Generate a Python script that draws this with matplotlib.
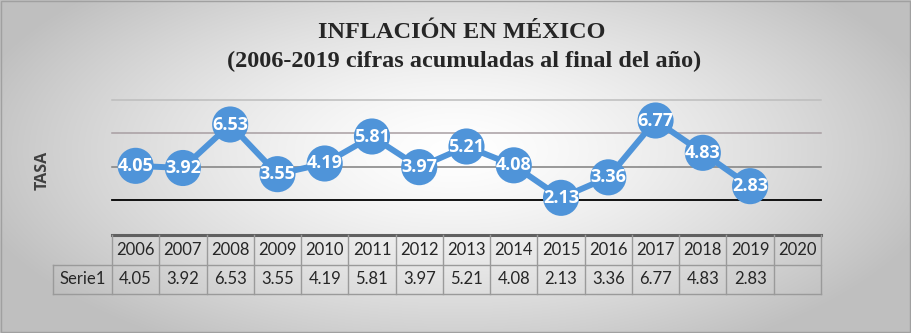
import numpy as np
import matplotlib
matplotlib.use("Agg")
import matplotlib.pyplot as plt
from matplotlib.patches import Rectangle

# ---- data ----
years = ["2006", "2007", "2008", "2009", "2010", "2011", "2012", "2013",
         "2014", "2015", "2016", "2017", "2018", "2019", "2020"]
values = [4.05, 3.92, 6.53, 3.55, 4.19, 5.81, 3.97, 5.21, 4.08, 2.13,
          3.36, 6.77, 4.83, 2.83]
series_name = "Serie1"
title1 = "INFLACIÓN EN MÉXICO"
title2 = "(2006-2019 cifras acumuladas al final del año)"
ylabel = "TASA"
yticks = [2, 4, 6, 8]

W, H = 911, 333
fig = plt.figure(figsize=(W / 100, H / 100), dpi=100)

# ---- background radial gradient ----
bg = fig.add_axes([0, 0, 1, 1])
yy, xx = np.mgrid[0:H, 0:W]
d = np.sqrt(((xx - 455) / 500.0) ** 2 + ((yy - 150) / 230.0) ** 2)
v = 1.0 - 0.25 * np.clip(d, 0, 1) ** 1.4
img = np.dstack([v, v, v])
bg.imshow(img, extent=[0, W, H, 0], aspect="auto")
bg.set_xlim(0, W)
bg.set_ylim(H, 0)
bg.axis("off")
bg.add_patch(Rectangle((0.5, 0.5), W - 1.5, H - 1.5, fill=False,
                       edgecolor="#A0A0A0", lw=1))

# ---- main plot ----
px = lambda x: x / W
py = lambda y: 1 - y / H
left, right = 112, 821
top, bottom = 100, 200
ax = fig.add_axes([px(left), py(bottom), px(right - left), (bottom - top) / H])
ax.patch.set_alpha(0)
n = len(years)
xs = np.arange(len(values))
ax.set_xlim(-0.5, n - 0.5)
ax.set_ylim(2, 8)
grid_colors = {2: "#000000", 4: "#7F7F7F", 6: "#A89EA2", 8: "#BDBDBD"}
for t in yticks:
    ax.axhline(t, color=grid_colors[t], lw=1.3 if t == 2 else 1.1, zorder=1,
               clip_on=False)
for s in ax.spines.values():
    s.set_visible(False)
ax.set_xticks([])
ax.set_yticks([])
blue = "#4F94D9"
ax.plot(xs, values, color=blue, lw=4.3, zorder=2, clip_on=False,
        solid_capstyle="round")
ax.scatter(xs, values, s=26 ** 2, color=blue, zorder=3, clip_on=False,
           edgecolors="none")
for x, val in zip(xs, values):
    ax.text(x, val, f"{val:.2f}", ha="center", va="center", color="white",
            fontsize=13, fontweight="bold", family="Open Sans", zorder=4)

# ---- titles ----
fig.text(px(462), py(33), title1, ha="center", va="center",
         family="Liberation Serif", fontweight="bold", fontsize=17.5,
         color="#262626")
fig.text(px(464), py(61), title2, ha="center", va="center",
         family="Liberation Serif", fontweight="bold", fontsize=17.5,
         color="#262626")
fig.text(px(43), py(170), ylabel, ha="center", va="center", rotation=90,
         family="Open Sans", fontweight="bold", fontsize=11.5, color="#404040")

# ---- data table ----
tab_top, tab_mid, tab_bot = 235, 262, 294
tax = fig.add_axes([px(left), py(tab_bot), px(right - left),
                    (tab_bot - tab_top) / H])
tax.patch.set_alpha(0)
tax.set_xlim(-0.5, n - 0.5)
tax.set_ylim(0, 2)
tax.axis("off")
lab_w = (left - 53) / ((right - left) / n)
gc = "#9A9A9A"
tax.plot([-0.5, n - 0.5], [2, 2], color="#606060", lw=2.2, clip_on=False)
tax.plot([-0.5 - lab_w, n - 0.5], [1, 1], color=gc, lw=1, clip_on=False)
tax.plot([-0.5 - lab_w, n - 0.5], [0, 0], color=gc, lw=1, clip_on=False)
tax.plot([-0.5 - lab_w, -0.5 - lab_w], [0, 1], color=gc, lw=1, clip_on=False)
for i in range(n + 1):
    tax.plot([i - 0.5, i - 0.5], [0, 2], color=gc, lw=1, clip_on=False)
tfont = dict(family="Lato", fontsize=12, color="#262626", ha="center",
             va="center")
for i, yr in enumerate(years):
    tax.text(i, 1.5, yr, **tfont)
for i, val in enumerate(values):
    tax.text(i, 0.5, f"{val:.2f}", **tfont)
tax.text(-0.5 - lab_w / 2, 0.5, series_name, **tfont)

fig.savefig("out.png", dpi=100)
